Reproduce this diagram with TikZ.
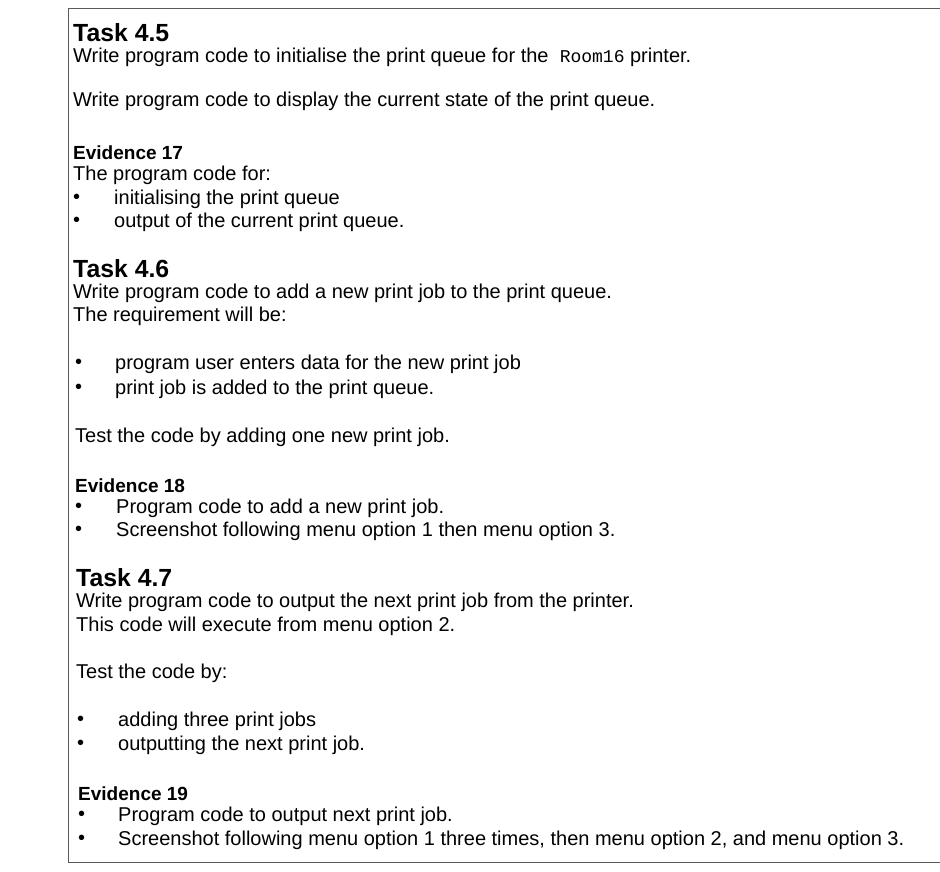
\documentclass[tikz,border=0pt]{standalone}
\usepackage{fontspec}
\setmainfont{Liberation Sans}
\setmonofont{Liberation Mono}
\begin{document}
\begin{tikzpicture}[x=1pt,y=-1pt,
  tx/.style={anchor=west,inner sep=0pt,font=\fontsize{20}{22}\selectfont},
  hd/.style={anchor=west,inner sep=0pt,font=\fontsize{24.8}{26}\selectfont\bfseries},
  ev/.style={anchor=west,inner sep=0pt,font=\fontsize{19}{21}\selectfont\bfseries}]
\useasboundingbox (0,0) rectangle (940,872);
\draw[gray!70!black,line width=0.8pt] (940,8) -- (68,8) -- (68,862) -- (940,862);
\node[hd] (t45) at (73,33) {Task 4.5};
\node[tx] (l1) at (73,57) {Write program code to initialise the print queue for the \ {\fontsize{18}{20}\selectfont\texttt{Room16}} printer.};
\node[tx] (l2) at (73,101) {Write program code to display the current state of the print queue.};
\node[ev] (e17) at (73,153) {Evidence 17};
\node[tx] (l3) at (73,175) {The program code for:};
\node[tx] (b1) at (73,199) {\textbullet}; \node[tx] (b1t) at (114,199) {initialising the print queue};
\node[tx] (b2) at (73,222) {\textbullet}; \node[tx] (b2t) at (114,222) {output of the current print queue.};
\node[hd] (t46) at (73,269) {Task 4.6};
\node[tx] (l4) at (73,293) {Write program code to add a new print job to the print queue.};
\node[tx] (l5) at (73,316) {The requirement will be:};
\node[tx] (b3) at (75,364) {\textbullet}; \node[tx] (b3t) at (115,364) {program user enters data for the new print job};
\node[tx] (b4) at (75,389) {\textbullet}; \node[tx] (b4t) at (115,389) {print job is added to the print queue.};
\node[tx] (l6) at (75,437) {Test the code by adding one new print job.};
\node[ev] (e18) at (75,486) {Evidence 18};
\node[tx] (b5) at (75,508) {\textbullet}; \node[tx] (b5t) at (116,508) {Program code to add a new print job.};
\node[tx] (b6) at (75,531) {\textbullet}; \node[tx] (b6t) at (116,531) {Screenshot following menu option 1 then menu option 3.};
\node[hd] (t47) at (76,578) {Task 4.7};
\node[tx] (l7) at (76,602) {Write program code to output the next print job from the printer.};
\node[tx] (l8) at (76,626) {This code will execute from menu option 2.};
\node[tx] (l9) at (76,673) {Test the code by:};
\node[tx] (b7) at (77,721) {\textbullet}; \node[tx] (b7t) at (118,721) {adding three print jobs};
\node[tx] (b8) at (77,745) {\textbullet}; \node[tx] (b8t) at (118,745) {outputting the next print job.};
\node[ev] (e19) at (78,794) {Evidence 19};
\node[tx] (b9) at (78,816) {\textbullet}; \node[tx] (b9t) at (118,816) {Program code to output next print job.};
\node[tx] (b10) at (78,840) {\textbullet}; \node[tx] (b10t) at (118,840) {Screenshot following menu option 1 three times, then menu option 2, and menu option 3.};
\end{tikzpicture}
\end{document}
